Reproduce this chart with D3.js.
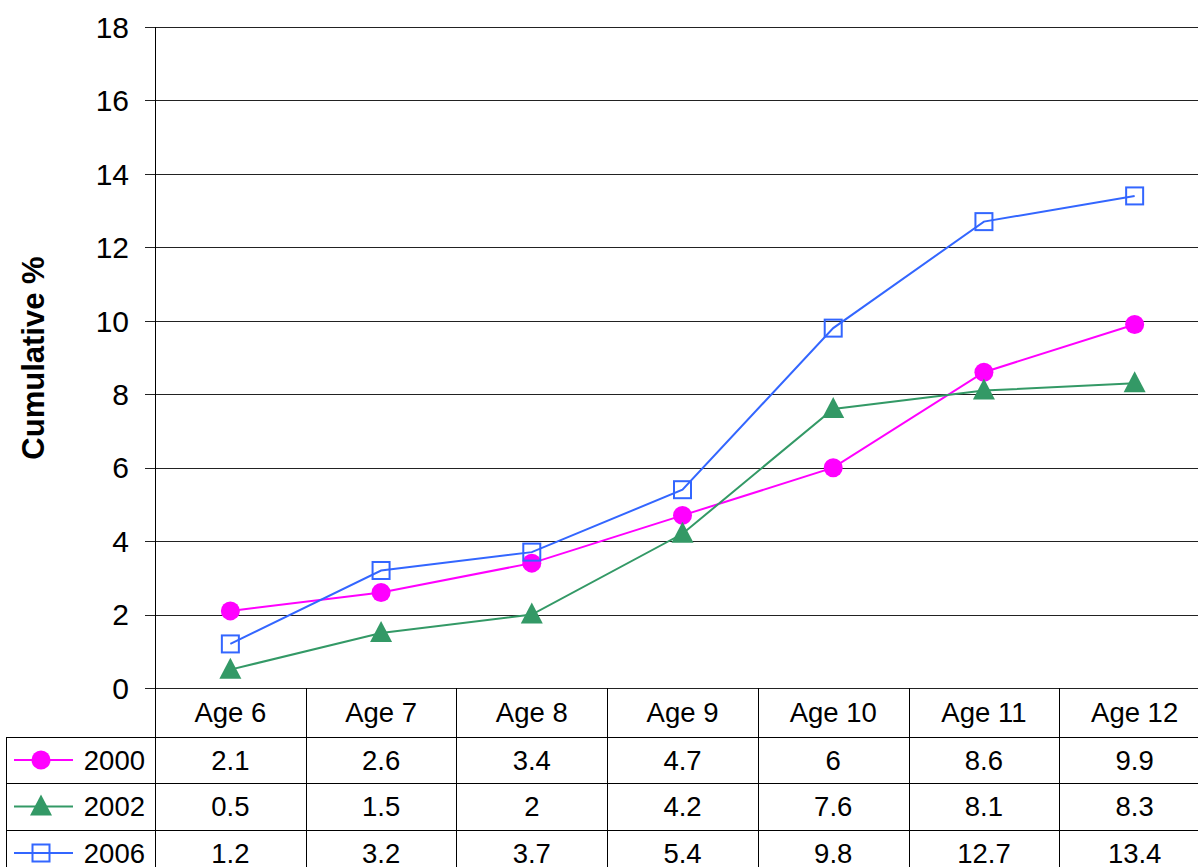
<!DOCTYPE html>
<html><head><meta charset="utf-8">
<script src="https://cdn.jsdelivr.net/npm/d3@7/dist/d3.min.js"></script>
<style>body{margin:0;background:#fff}svg{display:block}text{font-family:"Liberation Sans",Arial,sans-serif}</style>
</head><body>
<svg id="chart" width="1198" height="867"></svg>
<script>
const categories = ["Age 6","Age 7","Age 8","Age 9","Age 10","Age 11","Age 12"];
const seriesNames = ["2000","2002","2006"];
const values2000 = [2.1,2.6,3.4,4.7,6,8.6,9.9];
const values2002 = [0.5,1.5,2,4.2,7.6,8.1,8.3];
const values2006 = [1.2,3.2,3.7,5.4,9.8,12.7,13.4];
const yTicks = [0,2,4,6,8,10,12,14,16,18];
const yTitle = "Cumulative %";

(function(){
const series = [
  {name: seriesNames[0], values: values2000, color: "#FF00FF", marker: "circle"},
  {name: seriesNames[1], values: values2002, color: "#339966", marker: "triangle"},
  {name: seriesNames[2], values: values2006, color: "#3366FF", marker: "square"}
];

const svg = d3.select("#chart");
const pLeft = 155, pRight = 1210, pTop = 27, pBottom = 688;
const x = d3.scaleBand().domain(categories).range([pLeft, pRight]);
const y = d3.scaleLinear().domain([0, 18]).range([pBottom, pTop]);

// gridlines
svg.append("g").selectAll("line").data(yTicks).join("line")
  .attr("x1", pLeft - 10).attr("x2", pRight)
  .attr("y1", d => Math.round(y(d)) + 0.5).attr("y2", d => Math.round(y(d)) + 0.5)
  .attr("stroke", "#222").attr("stroke-width", 1);

// y axis line
svg.append("line").attr("x1", pLeft + 0.5).attr("x2", pLeft + 0.5)
  .attr("y1", pTop).attr("y2", 867).attr("stroke", "#000");

// tick labels
svg.append("g").selectAll("text").data(yTicks).join("text")
  .attr("x", 129).attr("y", d => y(d)).attr("dy", "0.36em")
  .attr("text-anchor", "end").attr("font-size", 30).attr("fill", "#000")
  .text(d => d);

// y title
svg.append("text").attr("transform", "translate(44,358) rotate(-90)")
  .attr("text-anchor", "middle").attr("font-size", 31).attr("font-weight", "bold")
  .text(yTitle);

function drawMarker(g, s, cx, cy) {
  if (s.marker === "circle") {
    g.append("circle").attr("cx", cx).attr("cy", cy).attr("r", 9.5).attr("fill", s.color);
  } else if (s.marker === "triangle") {
    g.append("path").attr("d", `M${cx},${cy - 12}L${cx + 11},${cy + 9}L${cx - 11},${cy + 9}Z`).attr("fill", s.color);
  } else {
    g.append("rect").attr("x", cx - 8.5).attr("y", cy - 8.5).attr("width", 17).attr("height", 17)
      .attr("fill", "none").attr("stroke", s.color).attr("stroke-width", 2);
  }
}

// table
const rowTops = [688, 737, 783, 830, 876];
const tbl = svg.append("g");
rowTops.slice(1).forEach(ry => {
  tbl.append("line").attr("x1", 6).attr("x2", pRight).attr("y1", ry + 0.5).attr("y2", ry + 0.5).attr("stroke", "#000");
});
tbl.append("line").attr("x1", 6.5).attr("x2", 6.5).attr("y1", 737).attr("y2", 867).attr("stroke", "#000");
categories.forEach((c) => {
  const xb = x(c) + x.bandwidth();
  tbl.append("line").attr("x1", Math.round(xb) + 0.5).attr("x2", Math.round(xb) + 0.5)
    .attr("y1", 688).attr("y2", 867).attr("stroke", "#000");
});
tbl.selectAll("text.hdr").data(categories).join("text").attr("class", "hdr")
  .attr("x", d => x(d) + x.bandwidth() / 2).attr("y", (688 + 737) / 2).attr("dy", "0.36em")
  .attr("text-anchor", "middle").attr("font-size", 27.5).text(d => d);

series.forEach((s, si) => {
  const cy = (rowTops[si + 1] + rowTops[si + 2]) / 2;
  tbl.selectAll("text.v" + si).data(s.values).join("text").attr("class", "v" + si)
    .attr("x", (d, i) => x(categories[i]) + x.bandwidth() / 2).attr("y", cy).attr("dy", "0.36em")
    .attr("text-anchor", "middle").attr("font-size", 27.5).text(d => d);
  tbl.append("line").attr("x1", 14).attr("x2", 73).attr("y1", cy).attr("y2", cy)
    .attr("stroke", s.color).attr("stroke-width", 2);
  drawMarker(tbl, s, 41, cy);
  tbl.append("text").attr("x", 145).attr("y", cy).attr("dy", "0.36em")
    .attr("text-anchor", "end").attr("font-size", 27.5).text(s.name);
});

// lines
const line = d3.line().x((d, i) => x(categories[i]) + x.bandwidth() / 2).y(d => y(d));
const plot = svg.append("g");
series.forEach(s => {
  plot.append("path").datum(s.values).attr("d", line).attr("fill", "none")
    .attr("stroke", s.color).attr("stroke-width", 2);
});
series.forEach(s => {
  s.values.forEach((v, i) => drawMarker(plot, s, x(categories[i]) + x.bandwidth() / 2, y(v)));
});
})();
</script>
</body></html>
